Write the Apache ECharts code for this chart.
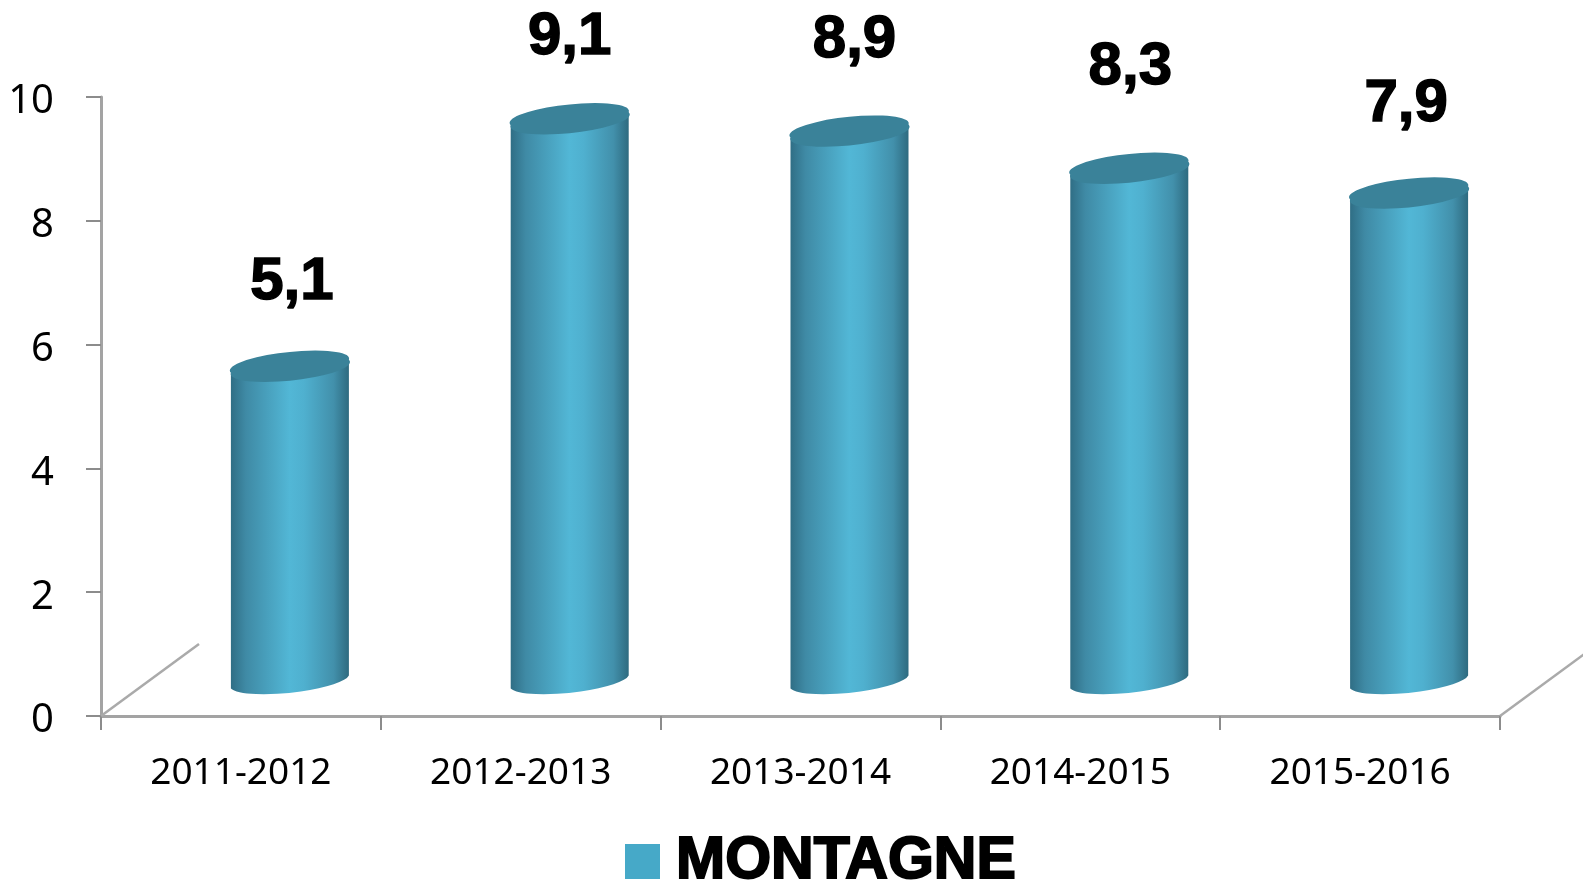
<!DOCTYPE html>
<html>
<head>
<meta charset="utf-8">
<title>MONTAGNE</title>
<script src="https://cdn.jsdelivr.net/npm/echarts@6/dist/echarts.min.js"></script>
<style>
    html, body { margin: 0; padding: 0; background: #fff; }
    #chart { width: 1583px; height: 881px; }
</style>
</head>
<body>
<div id="chart"></div>
<script>
const categories = ['2011-2012', '2012-2013', '2013-2014', '2014-2015', '2015-2016'];
const montagne = [5.1, 9.1, 8.9, 8.3, 7.9];
const yTicks = [0, 2, 4, 6, 8, 10];

// the picture is a fake 3D chart: the floor is pushed back from the axis
const depthX = 98;
const depthY = -72;
const barShiftX = 49;
const barShiftY = -34;
const barHalf = 59;
// lift of the value labels above the cylinder tops, they were placed by hand in the original
const labelLift = [84, 81, 91, 101, 89];
const labelShift = [2, 0, 5, 1, -3];

const sideGradient = new echarts.graphic.LinearGradient(0, 0, 1, 0, [
    {offset: 0, color: '#2f6d84'},
    {offset: 0.13, color: '#3f8aa5'},
    {offset: 0.5, color: '#52b7d6'},
    {offset: 0.62, color: '#4fb0cf'},
    {offset: 0.87, color: '#4290ab'},
    {offset: 1, color: '#2e6a7f'}
]);

const renderCylinder = (params, api) => {
    const idx = params.dataIndex;
    const top = api.coord([api.value(0), api.value(1)]);
    const base = api.coord([api.value(0), 0]);
    const cx = top[0] + barShiftX;
    const topY = top[1] + barShiftY;
    const baseY = base[1] + barShiftY;
    const left = cx - barHalf;
    const right = cx + barHalf;
    const tilt = 6.5; // ends of the ellipse are not level
    const ell = 'A 60 12.5 -6 ';

    const children = [
        {
            type: 'path',
            shape: {
                pathData: 'M ' + left + ' ' + (topY + tilt) +
                    ' L ' + left + ' ' + (baseY + tilt) +
                    ' ' + ell + '0 0 ' + right + ' ' + (baseY - tilt) +
                    ' L ' + right + ' ' + (topY - tilt) +
                    ' ' + ell + '0 1 ' + left + ' ' + (topY + tilt) + ' Z'
            },
            style: {fill: sideGradient}
        },
        {
            type: 'path',
            shape: {
                pathData: 'M ' + left + ' ' + (topY + tilt) +
                    ' ' + ell + '1 1 ' + right + ' ' + (topY - tilt) +
                    ' ' + ell + '1 1 ' + left + ' ' + (topY + tilt) + ' Z'
            },
            style: {fill: '#3a8299'}
        },
        {
            type: 'text',
            style: {
                x: cx + labelShift[idx],
                y: topY - labelLift[idx],
                text: String(api.value(1)).replace('.', ','),
                align: 'center',
                verticalAlign: 'middle',
                fill: '#000',
                font: 'bold 60px "Liberation Sans"',
                stroke: '#000',
                lineWidth: 1.5
            }
        }
    ];

    const sys = params.coordSys;
    const floorY = sys.y + sys.height;
    // receding floor edges on both sides
    if (idx === 0) {
        children.push({
            type: 'line',
            shape: {x1: sys.x, y1: floorY, x2: sys.x + depthX, y2: floorY + depthY},
            style: {stroke: '#aaaaaa', lineWidth: 2.5}
        });
    }
    if (idx === categories.length - 1) {
        const edge = sys.x + sys.width;
        children.push({
            type: 'line',
            shape: {x1: edge, y1: floorY, x2: edge + depthX, y2: floorY + depthY},
            style: {stroke: '#aaaaaa', lineWidth: 2.5}
        });
    }
    return {type: 'group', children: children};
};

const chartDom = document.getElementById('chart');
const myChart = echarts.init(chartDom, '', {renderer: 'canvas'});

const axisLineStyle = {color: '#a3a3a3', width: 3};

const option = {
    animation: false,
    backgroundColor: '#ffffff',
    grid: {
        left: 101,
        right: 83,
        top: 97,
        bottom: 165
    },
    legend: {
        show: true,
        data: [{name: 'MONTAGNE', icon: 'rect'}],
        left: 625,
        top: 831,
        padding: 0,
        itemWidth: 35,
        itemHeight: 35,
        textStyle: {
            color: '#000',
            fontFamily: 'Liberation Sans',
            fontWeight: 'bold',
            fontSize: 59,
            textBorderColor: '#000',
            textBorderWidth: 2,
            padding: [0, 0, 0, 11]
        }
    },
    xAxis: {
        type: 'category',
        data: categories,
        axisLine: {lineStyle: axisLineStyle},
        axisTick: {show: true, length: 14, lineStyle: {color: '#8c8c8c', width: 2}},
        axisLabel: {
            interval: 0,
            color: '#000',
            fontFamily: 'Noto Sans',
            fontSize: 37,
            margin: 39
        }
    },
    yAxis: {
        type: 'value',
        min: yTicks[0],
        max: yTicks[yTicks.length - 1],
        interval: yTicks[1] - yTicks[0],
        splitLine: {show: false},
        axisLine: {show: true, lineStyle: axisLineStyle},
        axisTick: {show: true, length: 15, lineStyle: {color: '#8c8c8c', width: 2}},
        axisLabel: {
            margin: 47,
            formatter: '{t|{value}}',
            rich: {
                t: {
                    color: '#000',
                    fontFamily: 'Noto Sans',
                    fontSize: 40,
                    padding: [10, 0, 0, 0] // numbers sit a little under their ticks
                }
            }
        }
    },
    series: [
        {
            name: 'MONTAGNE',
            type: 'custom',
            renderItem: renderCylinder,
            clip: false,
            itemStyle: {color: '#46a9c8'},
            encode: {x: 0, y: 1},
            data: categories.map((c, i) => [c, montagne[i]])
        }
    ]
};

myChart.setOption(option);
</script>
</body>
</html>
